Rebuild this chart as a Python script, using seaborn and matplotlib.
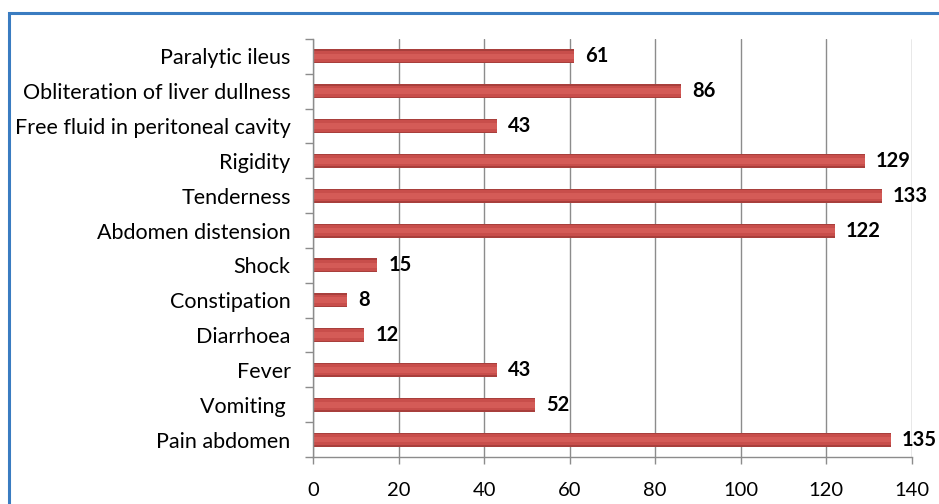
import matplotlib
matplotlib.use("Agg")
import matplotlib.pyplot as plt
import matplotlib.transforms as mtransforms
from matplotlib.patches import Rectangle
from matplotlib.ticker import FixedLocator
import seaborn as sns
import pandas as pd

symptoms = [
    "Paralytic ileus",
    "Obliteration of liver dullness",
    "Free fluid in peritoneal cavity",
    "Rigidity",
    "Tenderness",
    "Abdomen distension",
    "Shock",
    "Constipation",
    "Diarrhoea",
    "Fever",
    "Vomiting ",
    "Pain abdomen",
]
patients = [61, 86, 43, 129, 133, 122, 15, 8, 12, 43, 52, 135]
x_ticks = [0, 20, 40, 60, 80, 100, 120, 140]

df = pd.DataFrame({"symptom": symptoms, "patients": patients})

sns.set_theme(style="white")
plt.rcParams["font.family"] = ["Lato", "DejaVu Sans"]

fig = plt.figure(figsize=(9.39, 5.04), dpi=100)
ax = fig.add_axes([0.3333, 0.0933, 0.6379, 0.8294])

grid_col = "#8c8c8c"

# cylinder-like bars: darker shell, red body, soft lighter band in the middle
sns.barplot(data=df, y="symptom", x="patients", orient="h", color="#a83f3c",
            width=0.40, saturation=1, linewidth=0, ax=ax)
sns.barplot(data=df, y="symptom", x="patients", orient="h", color="#c84e4b",
            width=0.32, saturation=1, linewidth=0, ax=ax)
sns.barplot(data=df, y="symptom", x="patients", orient="h", color="#d45b57",
            width=0.16, saturation=1, linewidth=0, ax=ax)

for i, v in enumerate(patients):
    ax.annotate(str(v), xy=(v, i), xytext=(8, 0), textcoords="offset points",
                ha="left", va="center", fontsize=14.5, fontweight="bold",
                color="black", annotation_clip=False)

ax.set_xlim(0, 140)
ax.set_ylim(len(symptoms) - 0.5, -0.5)
ax.set_xticks(x_ticks)
ax.set_xticklabels([str(t) for t in x_ticks], fontsize=14.5)
ax.set_yticks(range(len(symptoms)))
ax.set_yticklabels(symptoms, fontsize=15.5)
ax.yaxis.set_minor_locator(FixedLocator([i - 0.5 for i in range(len(symptoms) + 1)]))
ax.set_xlabel("")
ax.set_ylabel("")

# category names sit a little below the bar centres
shift = mtransforms.ScaledTranslation(0, -3 / 100, fig.dpi_scale_trans)
for lbl in ax.get_yticklabels():
    lbl.set_transform(lbl.get_transform() + shift)

ax.xaxis.grid(True, color=grid_col, linewidth=1.0)
ax.yaxis.grid(False)
ax.set_axisbelow(True)

ax.tick_params(axis="x", which="major", length=5, width=1, color=grid_col,
               pad=13, labelcolor="black", bottom=True)
ax.tick_params(axis="y", which="major", length=0, pad=16, labelcolor="black")
ax.tick_params(axis="y", which="minor", length=6, width=1, color=grid_col, left=True)

for side in ["top", "right"]:
    ax.spines[side].set_visible(False)
for side in ["left", "bottom"]:
    ax.spines[side].set_color(grid_col)
    ax.spines[side].set_linewidth(1.0)

fig.patch.set_facecolor("white")
fig.patches.append(Rectangle((9 / 939, -0.1), 1.2, 1 + 0.1 - 13 / 504,
                             transform=fig.transFigure, fill=False,
                             edgecolor="#3a7cc1", linewidth=2.2, zorder=0))

fig.savefig("out.png", dpi=100)
